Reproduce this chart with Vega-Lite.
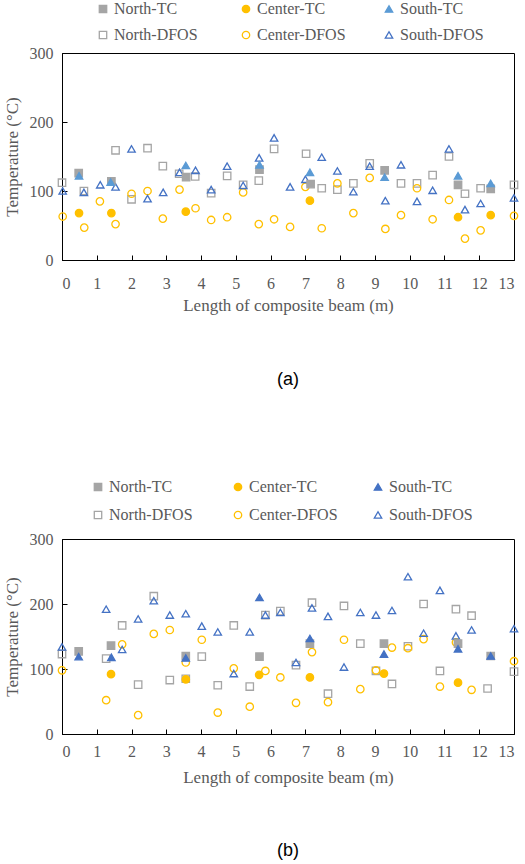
{
  "$schema": "https://vega.github.io/schema/vega-lite/v6.json",
  "padding": {"left": 2, "top": 0, "right": 5, "bottom": 0},
  "background": "white",
  "spacing": 88,
  "config": {
    "font": "'Liberation Serif', 'Times New Roman', serif",
    "view": {"stroke": "black", "strokeWidth": 1},
    "style": {
      "guide-label": {"font": "'Liberation Serif', 'Times New Roman', serif"},
      "guide-title": {"font": "'Liberation Serif', 'Times New Roman', serif"}
    },
    "axis": {
      "grid": false, "domainColor": "black", "tickColor": "black", "tickSize": -5,
      "labelColor": "#595959", "titleColor": "#595959",
      "labelFont": "'Liberation Serif', 'Times New Roman', serif", "titleFont": "'Liberation Serif', 'Times New Roman', serif",
      "labelFontSize": 16, "titleFontSize": 17, "titleFontWeight": "normal"
    },
    "legend": {
      "orient": "none", "columns": 3, "gridAlign": "all", "direction": "horizontal",
      "labelFont": "'Liberation Serif', 'Times New Roman', serif", "labelFontSize": 16, "labelColor": "#595959",
      "symbolSize": 55, "symbolStrokeWidth": 1.3, "labelOffset": 3, "title": null
    },
    "title": {"font": "'Liberation Sans', Arial, sans-serif", "fontSize": 18, "fontWeight": "normal", "color": "black", "orient": "bottom", "anchor": "middle"}
  },
  "datasets": {
    "a": [
      {"s": "North-DFOS", "x": 0, "T": 112}, {"s": "North-DFOS", "x": 0.63, "T": 100}, {"s": "North-DFOS", "x": 1.54, "T": 159}, {"s": "North-DFOS", "x": 2.0, "T": 88}, {"s": "North-DFOS", "x": 2.46, "T": 162}, {"s": "North-DFOS", "x": 2.9, "T": 136}, {"s": "North-DFOS", "x": 3.37, "T": 125}, {"s": "North-DFOS", "x": 3.83, "T": 121}, {"s": "North-DFOS", "x": 4.29, "T": 97}, {"s": "North-DFOS", "x": 4.75, "T": 122}, {"s": "North-DFOS", "x": 5.21, "T": 109}, {"s": "North-DFOS", "x": 5.66, "T": 115}, {"s": "North-DFOS", "x": 6.1, "T": 161}, {"s": "North-DFOS", "x": 7.02, "T": 154}, {"s": "North-DFOS", "x": 7.47, "T": 104}, {"s": "North-DFOS", "x": 7.92, "T": 102}, {"s": "North-DFOS", "x": 8.38, "T": 111}, {"s": "North-DFOS", "x": 8.85, "T": 140}, {"s": "North-DFOS", "x": 9.75, "T": 111}, {"s": "North-DFOS", "x": 10.21, "T": 111}, {"s": "North-DFOS", "x": 10.66, "T": 123}, {"s": "North-DFOS", "x": 11.13, "T": 150}, {"s": "North-DFOS", "x": 11.59, "T": 96}, {"s": "North-DFOS", "x": 12.04, "T": 104}, {"s": "North-DFOS", "x": 13, "T": 109},
      {"s": "Center-DFOS", "x": 0.02, "T": 63}, {"s": "Center-DFOS", "x": 0.64, "T": 47}, {"s": "Center-DFOS", "x": 1.09, "T": 85}, {"s": "Center-DFOS", "x": 1.54, "T": 52}, {"s": "Center-DFOS", "x": 2.0, "T": 96}, {"s": "Center-DFOS", "x": 2.46, "T": 100}, {"s": "Center-DFOS", "x": 2.9, "T": 60}, {"s": "Center-DFOS", "x": 3.38, "T": 102}, {"s": "Center-DFOS", "x": 3.84, "T": 75}, {"s": "Center-DFOS", "x": 4.29, "T": 58}, {"s": "Center-DFOS", "x": 4.75, "T": 62}, {"s": "Center-DFOS", "x": 5.21, "T": 98}, {"s": "Center-DFOS", "x": 5.66, "T": 52}, {"s": "Center-DFOS", "x": 6.1, "T": 59}, {"s": "Center-DFOS", "x": 6.56, "T": 48}, {"s": "Center-DFOS", "x": 7.0, "T": 106}, {"s": "Center-DFOS", "x": 7.47, "T": 46}, {"s": "Center-DFOS", "x": 7.92, "T": 111}, {"s": "Center-DFOS", "x": 8.38, "T": 68}, {"s": "Center-DFOS", "x": 8.85, "T": 119}, {"s": "Center-DFOS", "x": 9.3, "T": 45}, {"s": "Center-DFOS", "x": 9.75, "T": 65}, {"s": "Center-DFOS", "x": 10.21, "T": 104}, {"s": "Center-DFOS", "x": 10.66, "T": 59}, {"s": "Center-DFOS", "x": 11.13, "T": 87}, {"s": "Center-DFOS", "x": 11.59, "T": 31}, {"s": "Center-DFOS", "x": 12.04, "T": 43}, {"s": "Center-DFOS", "x": 13, "T": 64},
      {"s": "South-DFOS", "x": 0.02, "T": 100}, {"s": "South-DFOS", "x": 0.63, "T": 98}, {"s": "South-DFOS", "x": 1.1, "T": 109}, {"s": "South-DFOS", "x": 1.54, "T": 106}, {"s": "South-DFOS", "x": 2.0, "T": 161}, {"s": "South-DFOS", "x": 2.46, "T": 89}, {"s": "South-DFOS", "x": 2.91, "T": 98}, {"s": "South-DFOS", "x": 3.38, "T": 127}, {"s": "South-DFOS", "x": 3.84, "T": 130}, {"s": "South-DFOS", "x": 4.29, "T": 102}, {"s": "South-DFOS", "x": 4.75, "T": 136}, {"s": "South-DFOS", "x": 5.21, "T": 108}, {"s": "South-DFOS", "x": 5.67, "T": 148}, {"s": "South-DFOS", "x": 6.1, "T": 177}, {"s": "South-DFOS", "x": 6.56, "T": 106}, {"s": "South-DFOS", "x": 7.0, "T": 117}, {"s": "South-DFOS", "x": 7.47, "T": 149}, {"s": "South-DFOS", "x": 7.92, "T": 129}, {"s": "South-DFOS", "x": 8.38, "T": 99}, {"s": "South-DFOS", "x": 8.85, "T": 136}, {"s": "South-DFOS", "x": 9.3, "T": 86}, {"s": "South-DFOS", "x": 9.75, "T": 138}, {"s": "South-DFOS", "x": 10.21, "T": 85}, {"s": "South-DFOS", "x": 10.66, "T": 101}, {"s": "South-DFOS", "x": 11.13, "T": 161}, {"s": "South-DFOS", "x": 11.59, "T": 73}, {"s": "South-DFOS", "x": 12.04, "T": 82}, {"s": "South-DFOS", "x": 13, "T": 90},
      {"s": "North-TC", "x": 0.48, "T": 126}, {"s": "North-TC", "x": 1.42, "T": 114}, {"s": "North-TC", "x": 3.57, "T": 120}, {"s": "North-TC", "x": 5.68, "T": 131}, {"s": "North-TC", "x": 7.15, "T": 110}, {"s": "North-TC", "x": 9.28, "T": 130}, {"s": "North-TC", "x": 11.39, "T": 109}, {"s": "North-TC", "x": 12.33, "T": 103},
      {"s": "Center-TC", "x": 0.49, "T": 68}, {"s": "Center-TC", "x": 1.42, "T": 68}, {"s": "Center-TC", "x": 3.56, "T": 70}, {"s": "Center-TC", "x": 7.13, "T": 86}, {"s": "Center-TC", "x": 11.39, "T": 62}, {"s": "Center-TC", "x": 12.33, "T": 65},
      {"s": "South-TC", "x": 0.49, "T": 122}, {"s": "South-TC", "x": 1.4, "T": 113}, {"s": "South-TC", "x": 3.56, "T": 137}, {"s": "South-TC", "x": 5.68, "T": 138}, {"s": "South-TC", "x": 7.13, "T": 127}, {"s": "South-TC", "x": 9.28, "T": 120}, {"s": "South-TC", "x": 11.39, "T": 122}, {"s": "South-TC", "x": 12.33, "T": 111}
    ],
    "b": [
      {"s": "North-DFOS", "x": 0, "T": 123}, {"s": "North-DFOS", "x": 1.27, "T": 116}, {"s": "North-DFOS", "x": 1.73, "T": 167}, {"s": "North-DFOS", "x": 2.19, "T": 76}, {"s": "North-DFOS", "x": 2.64, "T": 212}, {"s": "North-DFOS", "x": 3.1, "T": 83}, {"s": "North-DFOS", "x": 3.56, "T": 85}, {"s": "North-DFOS", "x": 4.02, "T": 119}, {"s": "North-DFOS", "x": 4.48, "T": 75}, {"s": "North-DFOS", "x": 4.94, "T": 167}, {"s": "North-DFOS", "x": 5.4, "T": 73}, {"s": "North-DFOS", "x": 5.85, "T": 183}, {"s": "North-DFOS", "x": 6.28, "T": 189}, {"s": "North-DFOS", "x": 6.73, "T": 106}, {"s": "North-DFOS", "x": 7.19, "T": 202}, {"s": "North-DFOS", "x": 7.65, "T": 62}, {"s": "North-DFOS", "x": 8.11, "T": 197}, {"s": "North-DFOS", "x": 8.58, "T": 139}, {"s": "North-DFOS", "x": 9.03, "T": 97}, {"s": "North-DFOS", "x": 9.49, "T": 77}, {"s": "North-DFOS", "x": 9.95, "T": 135}, {"s": "North-DFOS", "x": 10.4, "T": 200}, {"s": "North-DFOS", "x": 10.87, "T": 97}, {"s": "North-DFOS", "x": 11.33, "T": 192}, {"s": "North-DFOS", "x": 11.78, "T": 182}, {"s": "North-DFOS", "x": 12.24, "T": 70}, {"s": "North-DFOS", "x": 13, "T": 96},
      {"s": "Center-DFOS", "x": 0, "T": 98}, {"s": "Center-DFOS", "x": 1.27, "T": 52}, {"s": "Center-DFOS", "x": 1.73, "T": 138}, {"s": "Center-DFOS", "x": 2.19, "T": 29}, {"s": "Center-DFOS", "x": 2.64, "T": 154}, {"s": "Center-DFOS", "x": 3.1, "T": 160}, {"s": "Center-DFOS", "x": 3.56, "T": 110}, {"s": "Center-DFOS", "x": 4.02, "T": 145}, {"s": "Center-DFOS", "x": 4.48, "T": 33}, {"s": "Center-DFOS", "x": 4.94, "T": 101}, {"s": "Center-DFOS", "x": 5.4, "T": 42}, {"s": "Center-DFOS", "x": 5.85, "T": 97}, {"s": "Center-DFOS", "x": 6.28, "T": 87}, {"s": "Center-DFOS", "x": 6.73, "T": 48}, {"s": "Center-DFOS", "x": 7.19, "T": 126}, {"s": "Center-DFOS", "x": 7.65, "T": 49}, {"s": "Center-DFOS", "x": 8.11, "T": 145}, {"s": "Center-DFOS", "x": 8.58, "T": 69}, {"s": "Center-DFOS", "x": 9.03, "T": 98}, {"s": "Center-DFOS", "x": 9.49, "T": 133}, {"s": "Center-DFOS", "x": 9.95, "T": 132}, {"s": "Center-DFOS", "x": 10.4, "T": 146}, {"s": "Center-DFOS", "x": 10.87, "T": 73}, {"s": "Center-DFOS", "x": 11.33, "T": 141}, {"s": "Center-DFOS", "x": 11.78, "T": 68}, {"s": "Center-DFOS", "x": 13, "T": 112},
      {"s": "South-DFOS", "x": 0, "T": 134}, {"s": "South-DFOS", "x": 1.27, "T": 192}, {"s": "South-DFOS", "x": 1.73, "T": 130}, {"s": "South-DFOS", "x": 2.19, "T": 177}, {"s": "South-DFOS", "x": 2.64, "T": 205}, {"s": "South-DFOS", "x": 3.1, "T": 183}, {"s": "South-DFOS", "x": 3.56, "T": 185}, {"s": "South-DFOS", "x": 4.02, "T": 166}, {"s": "South-DFOS", "x": 4.48, "T": 157}, {"s": "South-DFOS", "x": 4.94, "T": 93}, {"s": "South-DFOS", "x": 5.4, "T": 157}, {"s": "South-DFOS", "x": 5.85, "T": 183}, {"s": "South-DFOS", "x": 6.28, "T": 187}, {"s": "South-DFOS", "x": 6.73, "T": 110}, {"s": "South-DFOS", "x": 7.19, "T": 194}, {"s": "South-DFOS", "x": 7.65, "T": 181}, {"s": "South-DFOS", "x": 8.11, "T": 103}, {"s": "South-DFOS", "x": 8.58, "T": 187}, {"s": "South-DFOS", "x": 9.03, "T": 183}, {"s": "South-DFOS", "x": 9.49, "T": 190}, {"s": "South-DFOS", "x": 9.95, "T": 242}, {"s": "South-DFOS", "x": 10.4, "T": 155}, {"s": "South-DFOS", "x": 10.87, "T": 221}, {"s": "South-DFOS", "x": 11.33, "T": 151}, {"s": "South-DFOS", "x": 11.78, "T": 160}, {"s": "South-DFOS", "x": 13, "T": 162},
      {"s": "North-TC", "x": 0.48, "T": 127}, {"s": "North-TC", "x": 1.41, "T": 136}, {"s": "North-TC", "x": 3.56, "T": 120}, {"s": "North-TC", "x": 5.68, "T": 119}, {"s": "North-TC", "x": 7.13, "T": 139}, {"s": "North-TC", "x": 9.26, "T": 139}, {"s": "North-TC", "x": 11.39, "T": 139}, {"s": "North-TC", "x": 12.33, "T": 120},
      {"s": "Center-TC", "x": 1.41, "T": 92}, {"s": "Center-TC", "x": 3.56, "T": 84}, {"s": "Center-TC", "x": 5.67, "T": 91}, {"s": "Center-TC", "x": 7.13, "T": 87}, {"s": "Center-TC", "x": 9.26, "T": 93}, {"s": "Center-TC", "x": 11.39, "T": 79},
      {"s": "South-TC", "x": 0.48, "T": 119}, {"s": "South-TC", "x": 1.42, "T": 118}, {"s": "South-TC", "x": 3.56, "T": 117}, {"s": "South-TC", "x": 5.68, "T": 210}, {"s": "South-TC", "x": 7.13, "T": 147}, {"s": "South-TC", "x": 9.26, "T": 123}, {"s": "South-TC", "x": 11.39, "T": 131}, {"s": "South-TC", "x": 12.33, "T": 120}
    ]
  },
  "vconcat": [
    {
      "data": {"name": "a"},
      "width": 452, "height": 207,
      "title": {"text": "(a)", "offset": 58},
      "mark": {"type": "point", "size": 55, "strokeWidth": 1.3, "opacity": 1},
      "encoding": {
        "x": {"field": "x", "type": "quantitative", "scale": {"domain": [0, 13], "nice": false},
          "axis": {"values": [0,1,2,3,4,5,6,7,8,9,10,11,12,13], "title": "Length of composite beam (m)", "labelPadding": 20, "titlePadding": 6, "labelFont": "'Liberation Serif', serif", "titleFont": "'Liberation Serif', serif"}},
        "y": {"field": "T", "type": "quantitative", "scale": {"domain": [0, 300]},
          "axis": {"values": [0, 100, 200, 300], "title": "Temperature (°C)", "labelPadding": 14, "titlePadding": 8, "labelFont": "'Liberation Serif', serif", "titleFont": "'Liberation Serif', serif"}},
        "shape": {"field": "s", "type": "nominal",
          "scale": {"domain": ["North-TC", "Center-TC", "South-TC", "North-DFOS", "Center-DFOS", "South-DFOS"], "range": ["square", "circle", "triangle-up", "square", "circle", "triangle-up"]},
          "legend": {"legendX": 33, "legendY": -52, "columnPadding": 35, "rowPadding": 10}},
        "fill": {"field": "s", "type": "nominal",
          "scale": {"domain": ["North-TC", "Center-TC", "South-TC", "North-DFOS", "Center-DFOS", "South-DFOS"], "range": ["#A5A5A5", "#FFC000", "#5B9BD5", "transparent", "transparent", "transparent"]},
          "legend": {"legendX": 33, "legendY": -52, "columnPadding": 35, "rowPadding": 10}},
        "stroke": {"field": "s", "type": "nominal",
          "scale": {"domain": ["North-TC", "Center-TC", "South-TC", "North-DFOS", "Center-DFOS", "South-DFOS"], "range": ["#A5A5A5", "#FFC000", "#5B9BD5", "#A5A5A5", "#FFC000", "#4472C4"]},
          "legend": {"legendX": 33, "legendY": -52, "columnPadding": 35, "rowPadding": 10}}
      }
    },
    {
      "data": {"name": "b"},
      "width": 452, "height": 195,
      "title": {"text": "(b)", "offset": 57},
      "mark": {"type": "point", "size": 55, "strokeWidth": 1.3, "opacity": 1},
      "encoding": {
        "x": {"field": "x", "type": "quantitative", "scale": {"domain": [0, 13], "nice": false},
          "axis": {"values": [0,1,2,3,4,5,6,7,8,9,10,11,12,13], "title": "Length of composite beam (m)", "labelPadding": 14, "titlePadding": 10, "labelFont": "'Liberation Serif', serif", "titleFont": "'Liberation Serif', serif"}},
        "y": {"field": "T", "type": "quantitative", "scale": {"domain": [0, 300]},
          "axis": {"values": [0, 100, 200, 300], "title": "Temperature (°C)", "labelPadding": 14, "titlePadding": 8, "labelFont": "'Liberation Serif', serif", "titleFont": "'Liberation Serif', serif"}},
        "shape": {"field": "s", "type": "nominal",
          "scale": {"domain": ["North-TC", "Center-TC", "South-TC", "North-DFOS", "Center-DFOS", "South-DFOS"], "range": ["square", "circle", "triangle-up", "square", "circle", "triangle-up"]},
          "legend": {"legendX": 28, "legendY": -60, "columnPadding": 32, "rowPadding": 12}},
        "fill": {"field": "s", "type": "nominal",
          "scale": {"domain": ["North-TC", "Center-TC", "South-TC", "North-DFOS", "Center-DFOS", "South-DFOS"], "range": ["#A5A5A5", "#FFC000", "#4472C4", "transparent", "transparent", "transparent"]},
          "legend": {"legendX": 28, "legendY": -60, "columnPadding": 32, "rowPadding": 12}},
        "stroke": {"field": "s", "type": "nominal",
          "scale": {"domain": ["North-TC", "Center-TC", "South-TC", "North-DFOS", "Center-DFOS", "South-DFOS"], "range": ["#A5A5A5", "#FFC000", "#4472C4", "#A5A5A5", "#FFC000", "#4472C4"]},
          "legend": {"legendX": 28, "legendY": -60, "columnPadding": 32, "rowPadding": 12}}
      }
    }
  ],
  "resolve": {
    "scale": {"fill": "independent", "stroke": "independent", "shape": "independent"},
    "legend": {"fill": "independent", "stroke": "independent", "shape": "independent"}
  }
}
